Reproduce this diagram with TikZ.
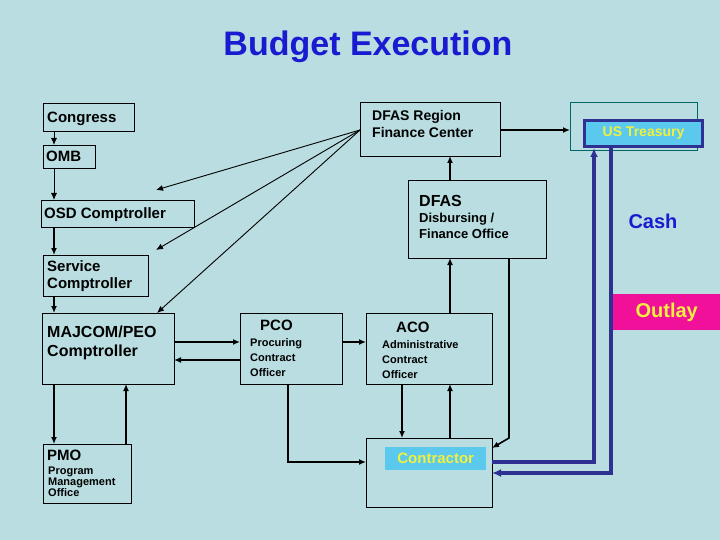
\documentclass[tikz,border=0pt]{standalone}
\usepackage{fontspec}
\setmainfont{Liberation Sans}
\usetikzlibrary{arrows.meta}
\definecolor{bg}{HTML}{B9DDE0}
\definecolor{ttl}{HTML}{1A1AD0}
\definecolor{dblue}{HTML}{2E3192}
\definecolor{lblue}{HTML}{5BC8EE}
\definecolor{mag}{HTML}{F0109A}
\definecolor{yel}{HTML}{F0F040}
\tikzset{
  bx/.style={draw=black,line width=0.8pt,anchor=north west,inner sep=0pt},
  lbl/.style={anchor=north west,inner sep=0pt,align=left,font=\bfseries},
  ar/.style={-{Latex[length=7pt,width=6pt]},line width=1.6pt},
  thin/.style={-{Latex[length=7pt,width=6pt]},line width=0.9pt},
  bar/.style={line width=3.5pt,draw=dblue},
}
\begin{document}
\begin{tikzpicture}[x=1pt,y=-1pt]
\fill[bg] (0,0) rectangle (720,540);
\useasboundingbox (0,0) rectangle (720,540);
\node[font=\fontsize{34}{36}\selectfont\bfseries,text=ttl] (title) at (368,47) {Budget Execution};
% boxes
\node[bx,minimum width=91,minimum height=28] (cong) at (43,103) {};
\node[lbl,font=\fontsize{15}{17}\selectfont\bfseries] at (47,112) {Congress};
\node[bx,minimum width=52,minimum height=23] (omb) at (43,145) {};
\node[lbl,font=\fontsize{15}{17}\selectfont\bfseries] at (46,151) {OMB};
\node[bx,minimum width=153,minimum height=27] (osd) at (41,200) {};
\node[lbl,font=\fontsize{15}{17}\selectfont\bfseries] at (44,207) {OSD Comptroller};
\node[bx,minimum width=105,minimum height=41] (svc) at (43,255) {};
\node[lbl,font=\fontsize{15}{17}\selectfont\bfseries] at (47,260) {Service\\Comptroller};
\node[bx,minimum width=132,minimum height=71] (maj) at (42,313) {};
\node[lbl,font=\fontsize{16}{19}\selectfont\bfseries] at (47,326) {MAJCOM/PEO\\Comptroller};
\node[bx,minimum width=88,minimum height=59] (pmo) at (43,444) {};
\node[lbl,font=\fontsize{15}{16}\selectfont\bfseries] at (47,450) {PMO};
\node[lbl,font=\fontsize{11}{11}\selectfont\bfseries] at (48,467) {Program\\Management\\Office};
\node[bx,minimum width=102,minimum height=71] (pco) at (240,313) {};
\node[lbl,font=\fontsize{15}{16}\selectfont\bfseries] at (260,320) {PCO};
\node[lbl,font=\fontsize{11}{15}\selectfont\bfseries] at (250,338) {Procuring\\Contract\\Officer};
\node[bx,minimum width=126,minimum height=71] (aco) at (366,313) {};
\node[lbl,font=\fontsize{15}{16}\selectfont\bfseries] at (396,322) {ACO};
\node[lbl,font=\fontsize{11}{15}\selectfont\bfseries] at (382,340) {Administrative\\Contract\\Officer};
\node[bx,minimum width=126,minimum height=69] (con) at (366,438) {};
\node[anchor=north west,fill=lblue,inner sep=0pt,minimum width=101,minimum height=23,text=yel,font=\fontsize{15}{17}\selectfont\bfseries] (conl) at (385,447) {Contractor};
\node[bx,minimum width=140,minimum height=54] (dfr) at (360,102) {};
\node[lbl,font=\fontsize{14}{17}\selectfont\bfseries] at (372,110) {DFAS Region\\Finance Center};
\node[bx,minimum width=138,minimum height=78] (dfas) at (408,180) {};
\node[lbl,font=\fontsize{16}{17}\selectfont\bfseries] at (419,195) {DFAS};
\node[lbl,font=\fontsize{13}{16}\selectfont\bfseries] at (419,213) {Disbursing /\\Finance Office};
\node[anchor=north west,draw=teal!80!black,line width=0.8pt,minimum width=127,minimum height=48,inner sep=0pt] (ust) at (570,102) {};
\node[anchor=north west,draw=dblue,line width=3pt,fill=lblue,minimum width=118,minimum height=26,inner sep=0pt,text=yel,font=\fontsize{14}{16}\selectfont\bfseries] (ustl) at (583,119) {US Treasury};
\node[text=ttl,font=\fontsize{20}{22}\selectfont\bfseries] (cash) at (653,221) {Cash};
\node[anchor=north west,fill=mag,minimum width=107,minimum height=36,inner sep=0pt,text=yel,font=\fontsize{20}{22}\selectfont\bfseries] (out) at (613,294) {Outlay};
% left chain
\draw[thin] (54,131) -- (54,145);
\draw[thin] (54,168) -- (54,200);
\draw[ar] (54,227) -- (54,255);
\draw[ar] (54,296) -- (54,313);
\draw[ar] (54,384) -- (54,444);
\draw[ar] (126,444) -- (126,384);
\coordinate (dl) at (360,130);
\draw[thin] (dl) -- (156,190);
\draw[thin] (dl) -- (156,250);
\draw[thin] (dl) -- (157,313);
\draw[ar] (174,342) -- (240,342);
\draw[ar] (240,360) -- (174,360);
\draw[ar] (342,342) -- (366,342);
\draw[ar] (288,384) -- (288,462) -- (366,462);
\draw[ar] (402,384) -- (402,438);
\draw[ar] (450,438) -- (450,384);
\draw[ar] (450,313) -- (450,258);
\draw[ar] (450,180) -- (450,156);
\draw[ar] (509,258) -- (509,438) -- (492,448);
\draw[ar] (500,130) -- (570,130);
% blue flows
\draw[bar,-{Latex[length=9pt,width=8pt]}] (492,462) -- (594,462) -- (594,148);
\draw[bar,-{Latex[length=9pt,width=8pt]}] (611,148) -- (611,473) -- (492,473);
\end{tikzpicture}
\end{document}
